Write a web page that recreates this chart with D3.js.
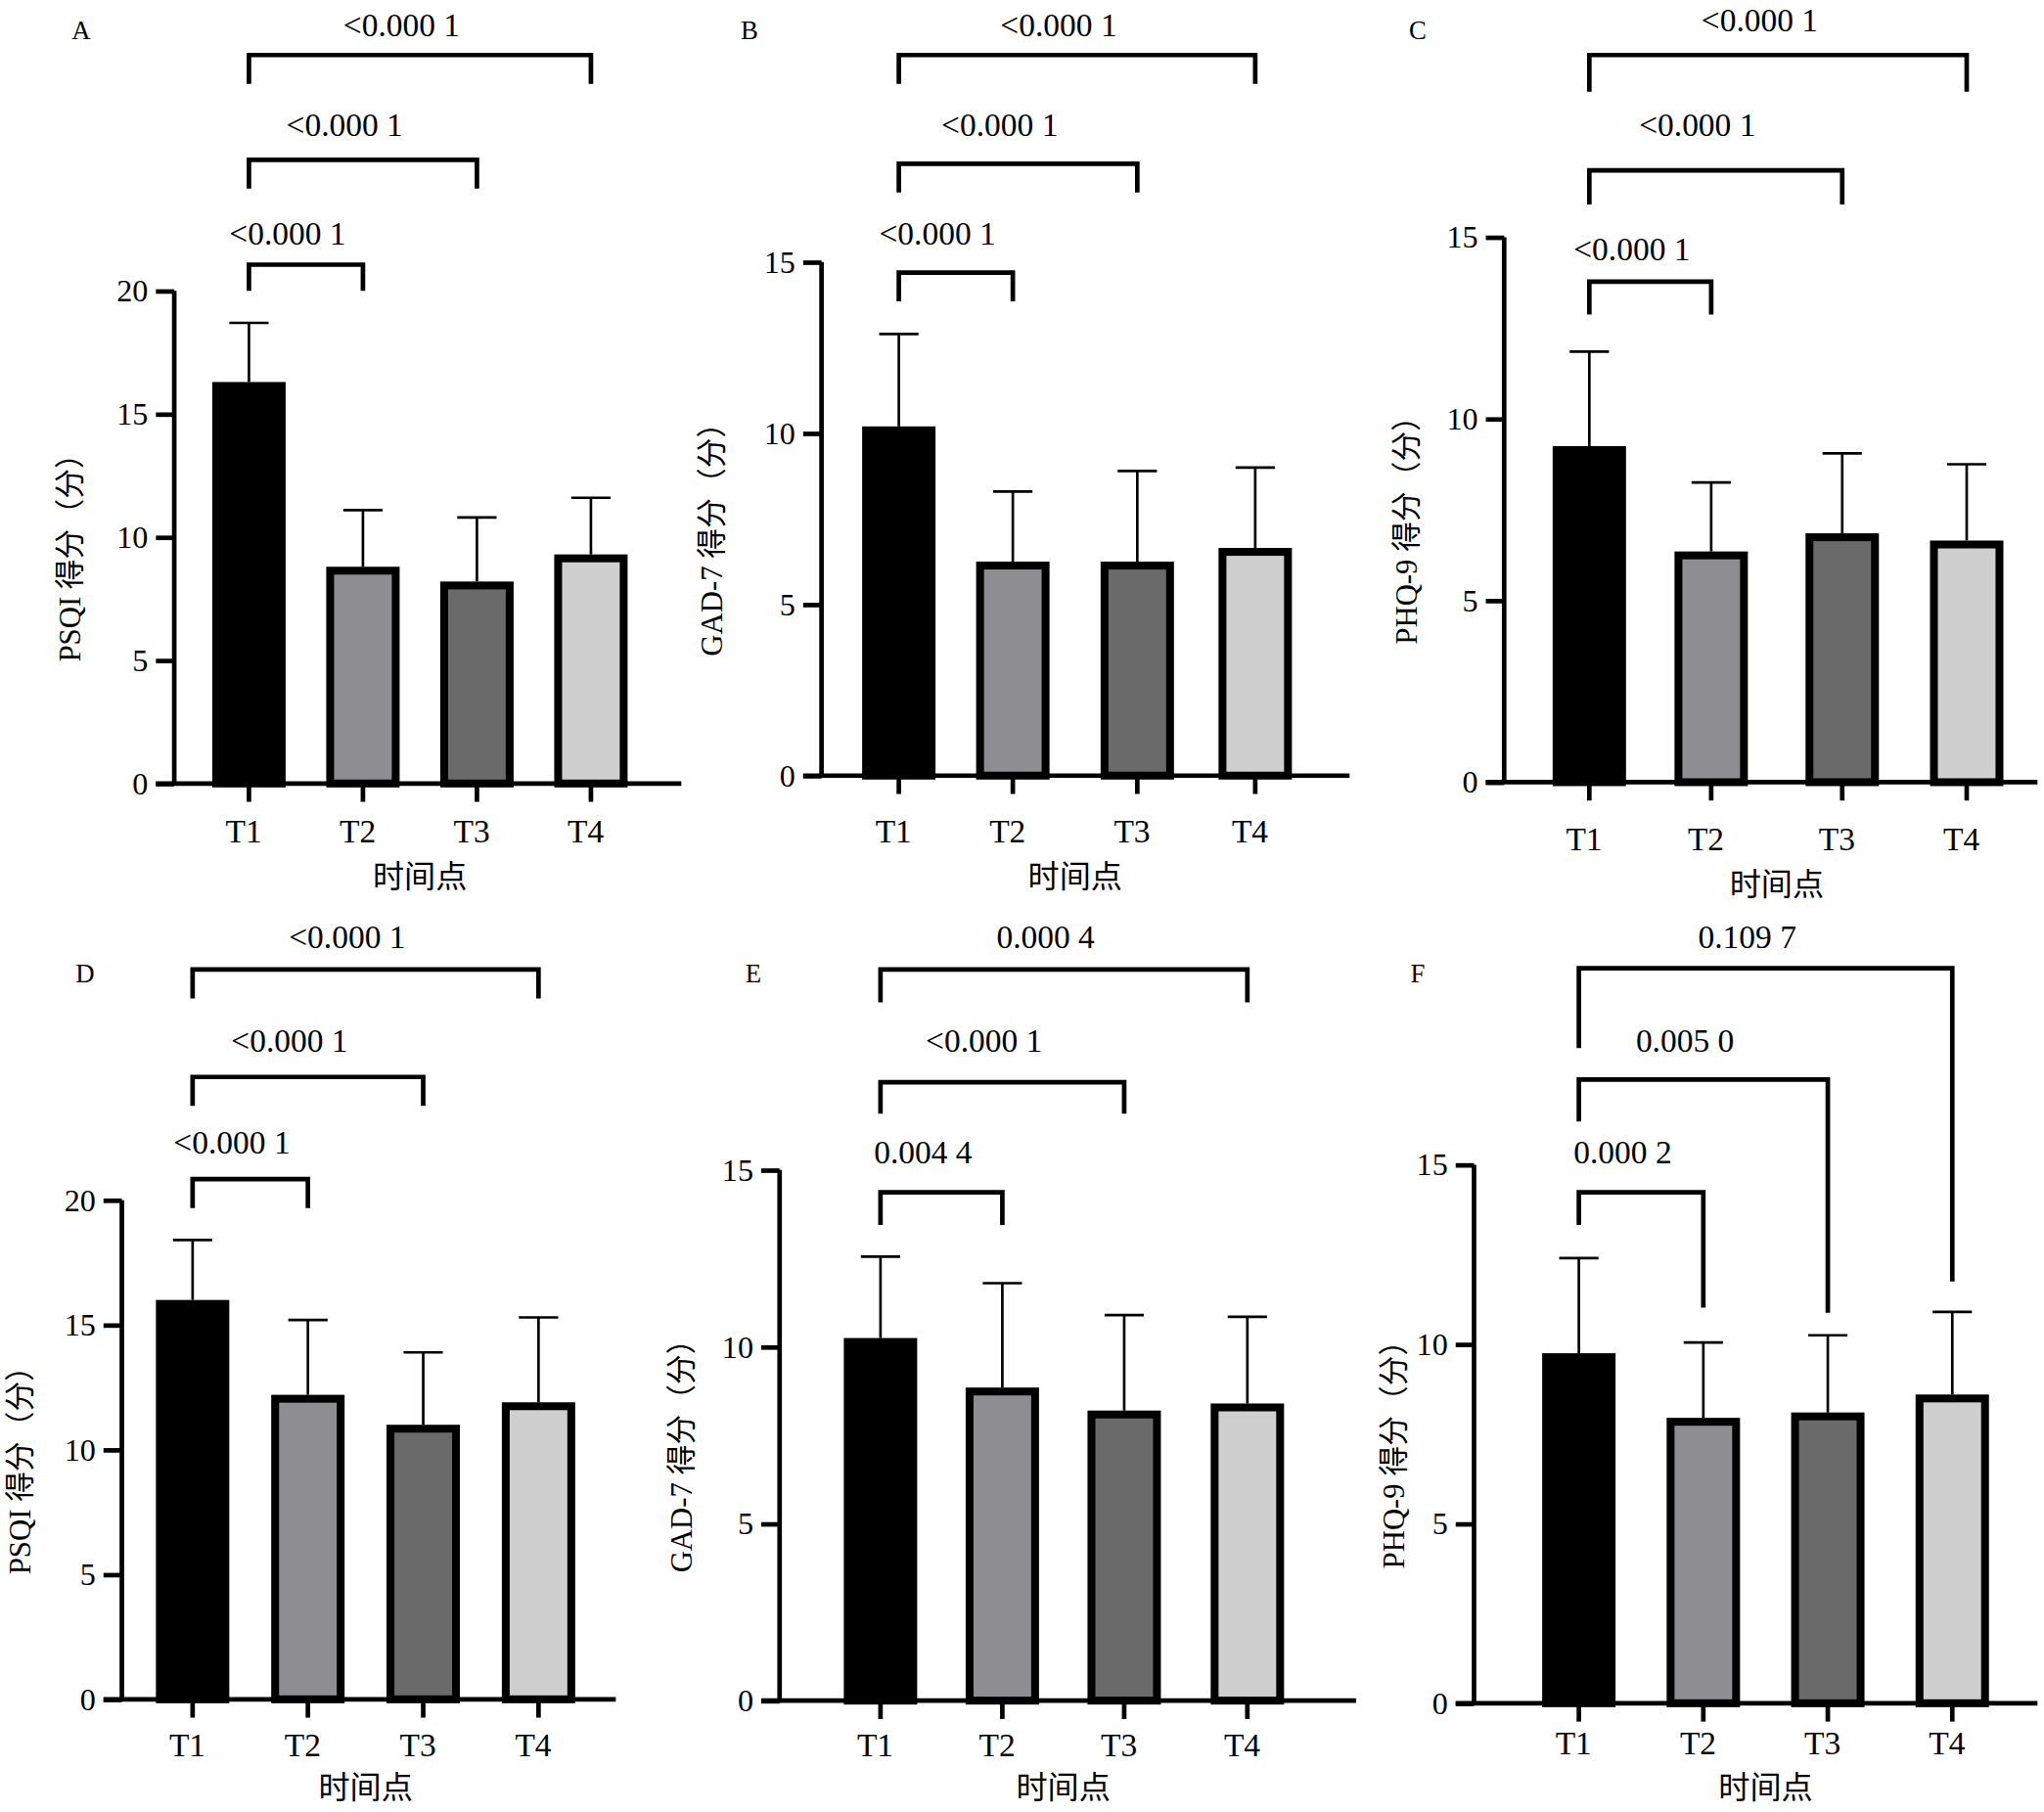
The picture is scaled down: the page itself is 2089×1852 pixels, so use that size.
<!DOCTYPE html>
<html><head><meta charset="utf-8">
<script src="https://cdn.jsdelivr.net/npm/d3@7"></script>
<style>body{margin:0;background:#fff}</style>
</head><body>
<script>
// panels: data, layout in 1560-wide units
var fills = ["#000000", "#8e8d92", "#6a6a6a", "#cfcfcf"];
var panels = [
  {id:"A", ylab:"PSQI 得分（分）", max:20, ax:133, y0:598, ytop:222, xend:520, cx:[190,277,364,451], lx:56,
   mean:[16.3,8.8,8.2,9.3], sd:[18.7,11.1,10.8,11.6], letter:[62,25], xt:637, xtitle:671,
   br:[{to:3,y:42,l:64,r:64,p:"<0.000 1",ty:22},{to:2,y:122,l:144,r:144,p:"<0.000 1",ty:98},{to:1,y:202,l:222,r:222,p:"<0.000 1",ty:181}]},
  {id:"B", ylab:"GAD-7 得分（分）", max:15, ax:627, y0:592, ytop:200, xend:1030, cx:[686,773,868,958], lx:546,
   mean:[10.2,6.25,6.25,6.65], sd:[12.9,8.3,8.9,9.0], letter:[572,25], xt:637, xtitle:671,
   br:[{to:3,y:42,l:64,r:64,p:"<0.000 1",ty:22},{to:2,y:125,l:147,r:147,p:"<0.000 1",ty:98},{to:1,y:208,l:230,r:230,p:"<0.000 1",ty:181}]},
  {id:"C", ylab:"PHQ-9 得分（分）", max:15, ax:1148, y0:597, ytop:181, xend:1555, cx:[1213,1306,1406,1501], lx:1076,
   mean:[9.25,6.35,6.85,6.65], sd:[11.85,8.25,9.05,8.75], letter:[1082,25], xt:643, xtitle:677,
   br:[{to:3,y:42,l:70,r:70,p:"<0.000 1",ty:18},{to:2,y:130,l:156,r:156,p:"<0.000 1",ty:98},{to:1,y:215,l:240,r:240,p:"<0.000 1",ty:193}]},
  {id:"D", ylab:"PSQI 得分（分）", max:20, ax:93, y0:1297, ytop:916, xend:470, cx:[147,235,323,411], lx:18,
   mean:[16.0,12.2,11.0,11.9], sd:[18.4,15.2,13.9,15.3], letter:[65,745], xt:1335, xtitle:1366,
   br:[{to:3,y:740,l:762,r:762,p:"<0.000 1",ty:718},{to:2,y:822,l:844,r:844,p:"<0.000 1",ty:797},{to:1,y:900,l:922,r:922,p:"<0.000 1",ty:875}]},
  {id:"E", ylab:"GAD-7 得分（分）", max:15, ax:595, y0:1298, ytop:893, xend:1035, cx:[672,765,858,952], lx:523,
   mean:[10.25,8.85,8.2,8.4], sd:[12.55,11.8,10.9,10.85], letter:[575,745], xt:1335, xtitle:1366,
   br:[{to:3,y:740,l:765,r:765,p:"0.000 4",ty:718},{to:2,y:826,l:850,r:850,p:"<0.000 1",ty:797},{to:1,y:910,l:935,r:935,p:"0.004 4",ty:882}]},
  {id:"F", ylab:"PHQ-9 得分（分）", max:15, ax:1125, y0:1300, ytop:889, xend:1555, cx:[1205,1300,1395,1490], lx:1066,
   mean:[9.75,7.95,8.1,8.6], sd:[12.4,10.05,10.25,10.9], letter:[1082,745], xt:1333, xtitle:1366,
   br:[{to:3,y:739,l:800,r:978,p:"0.109 7",ty:718},{to:2,y:824,l:856,r:1002,p:"0.005 0",ty:797},{to:1,y:910,l:935,r:998,p:"0.000 2",ty:882}]}
];
var labels = ["T1","T2","T3","T4"];
var serif = "'Liberation Serif','DejaVu Serif',serif";

var svg = d3.select("body").append("svg")
  .attr("width", 2089).attr("height", 1852)
  .attr("viewBox", "0 0 1560 1383");

panels.forEach(function (p) {
  var g = svg.append("g");
  var y = d3.scaleLinear().domain([0, p.max]).range([p.y0, p.ytop]);
  var cx = function (i) { return p.cx[i]; };
  var bw = 56;

  // error bars (upper only)
  p.mean.forEach(function (m, i) {
    g.append("line").attr("x1", cx(i)).attr("x2", cx(i)).attr("y1", y(m)).attr("y2", y(p.sd[i]))
      .attr("stroke", "#000").attr("stroke-width", 2);
    g.append("line").attr("x1", cx(i) - 15).attr("x2", cx(i) + 15).attr("y1", y(p.sd[i])).attr("y2", y(p.sd[i]))
      .attr("stroke", "#000").attr("stroke-width", 2);
  });
  // bars
  g.selectAll("rect.bar").data(p.mean).enter().append("rect")
    .attr("x", function (d, i) { return cx(i) - bw / 2 + 3; })
    .attr("width", bw - 6)
    .attr("y", function (d) { return y(d) + 3; })
    .attr("height", function (d) { return p.y0 - y(d) - 3; })
    .attr("fill", function (d, i) { return fills[i]; })
    .attr("stroke", "#000").attr("stroke-width", 6);

  // y axis
  var ya = d3.axisLeft(y).ticks(p.max / 5).tickSize(14).tickPadding(6);
  var yg = g.append("g").attr("transform", "translate(" + p.ax + ",0)").call(ya);
  yg.select(".domain").attr("stroke-width", 3.5).attr("d", "M0," + p.ytop + "V" + p.y0);
  yg.selectAll(".tick line").attr("stroke-width", 3.5);
  yg.selectAll("text").attr("font-family", serif).attr("font-size", 24);

  // x axis
  g.append("line").attr("x1", p.ax - 14).attr("x2", p.xend).attr("y1", p.y0).attr("y2", p.y0)
    .attr("stroke", "#000").attr("stroke-width", 3.5);
  labels.forEach(function (t, i) {
    g.append("line").attr("x1", cx(i)).attr("x2", cx(i)).attr("y1", p.y0).attr("y2", p.y0 + 14)
      .attr("stroke", "#000").attr("stroke-width", 3.5);
    g.append("text").attr("x", cx(i) - 4).attr("y", p.xt).attr("text-anchor", "middle").attr("dominant-baseline", "middle")
      .attr("font-family", serif).attr("font-size", 25).text(t);
  });
  g.append("text").attr("x", (p.cx[1] + p.cx[2]) / 2).attr("y", p.xtitle).attr("text-anchor", "middle").attr("dominant-baseline", "middle")
    .attr("font-family", "'Noto Sans CJK SC'").attr("font-size", 24).text("时间点");

  // y title
  g.append("text").attr("transform", "translate(" + p.lx + "," + ((p.y0 + p.ytop) / 2 + 10) + ") rotate(-90)")
    .attr("text-anchor", "middle").attr("dominant-baseline", "middle")
    .attr("font-family", serif + ",'Noto Sans CJK SC'").attr("font-size", 23).text(p.ylab);

  g.append("text").attr("x", p.letter[0]).attr("y", p.letter[1]).attr("text-anchor", "middle").attr("dominant-baseline", "middle")
    .attr("font-family", serif).attr("font-size", 20).text(p.id);

  // significance brackets
  p.br.forEach(function (b) {
    var x1 = cx(0), x2 = cx(b.to);
    g.append("path").attr("d", "M" + x1 + "," + b.l + "V" + b.y + "H" + x2 + "V" + b.r)
      .attr("fill", "none").attr("stroke", "#000").attr("stroke-width", 3.5);
    g.append("text").attr("x", (x1 + x2) / 2 - 14).attr("y", b.ty)
      .attr("text-anchor", "middle").attr("dominant-baseline", "middle")
      .attr("font-family", serif).attr("font-size", 25).text(b.p);
  });
});
</script>
</body></html>
